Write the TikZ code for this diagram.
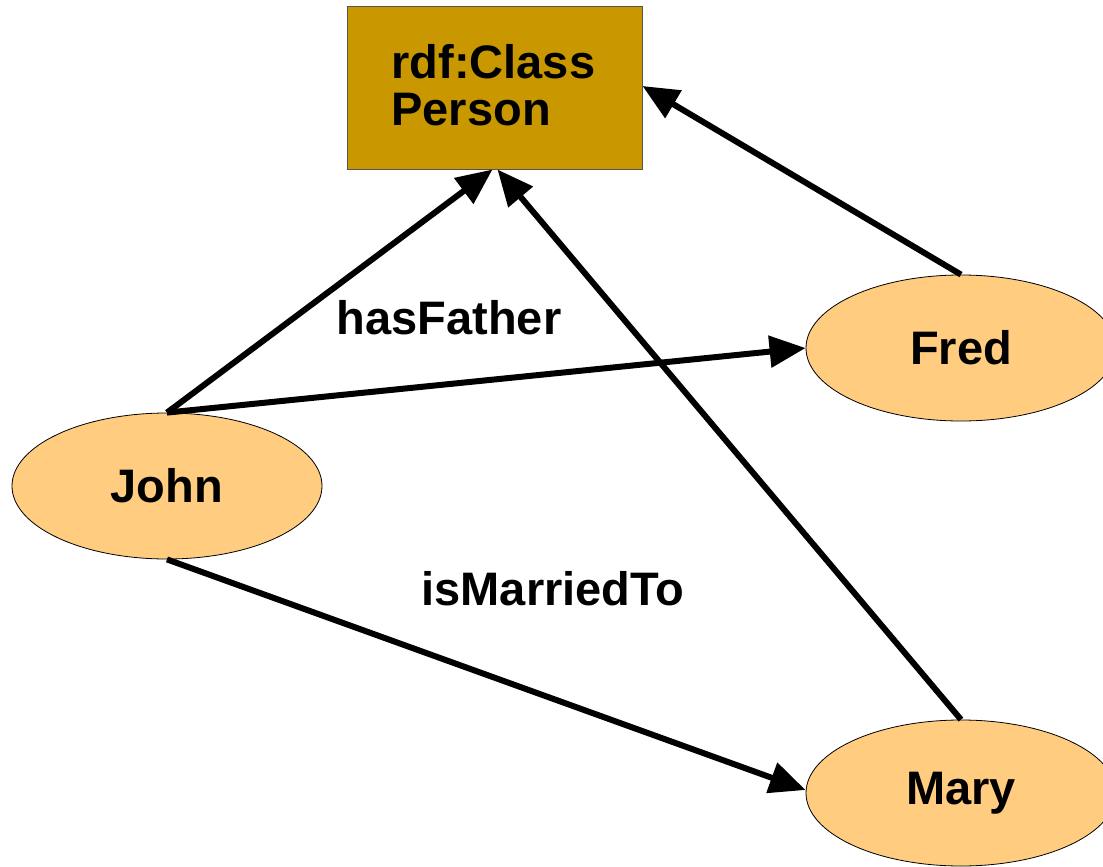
\documentclass[tikz,border=0pt]{standalone}
\usepackage{fontspec}
\setmainfont{Liberation Sans}
\usetikzlibrary{shapes.geometric,arrows.meta}
\definecolor{classfill}{HTML}{C99700}
\definecolor{classline}{HTML}{555555}
\definecolor{instfill}{HTML}{FFCC80}
\tikzset{
  big/.style={font=\fontsize{47}{47}\selectfont\bfseries},
  classbox/.style={big, draw=classline, line width=1pt, fill=classfill,
    minimum width=295pt, minimum height=162pt, text width=206pt,
    inner xsep=44.5pt, align=left, text depth=53pt},
  instance/.style={big, ellipse, draw=black, line width=0.8pt, fill=instfill,
    minimum width=310pt, minimum height=146pt, inner sep=0pt},
  rel/.style={big, inner sep=0pt},
  link/.style={line width=6pt, -{Triangle[length=36pt,width=31pt]}}
}
\begin{document}
\begin{tikzpicture}[x=1pt,y=-1pt]
  \useasboundingbox (0,0) rectangle (1103,867);
  % class and instances
  \node[classbox] (cls) at (494.5,88) {rdf:Class\\Person};
  \node[instance] (john) at (167,486) {John};
  \node[instance] (fred) at (961,348) {Fred};
  \node[instance] (mary) at (961,793) {Mary};
  % property labels
  \node[rel] (hf) at (449,318) {hasFather};
  \node[rel] (imt) at (553,589) {isMarriedTo};
  % type links
  \draw[link] (john.north) -- ([xshift=-2pt]cls.south);
  \draw[link] (mary.north) -- ([xshift=3pt]cls.south);
  \draw[link] (fred.north) -- ([yshift=2pt]cls.east);
  % properties
  \draw[link] (john.north) -- (fred.west);
  \draw[link] (john.south) -- ([yshift=3pt]mary.west);
\end{tikzpicture}
\end{document}
